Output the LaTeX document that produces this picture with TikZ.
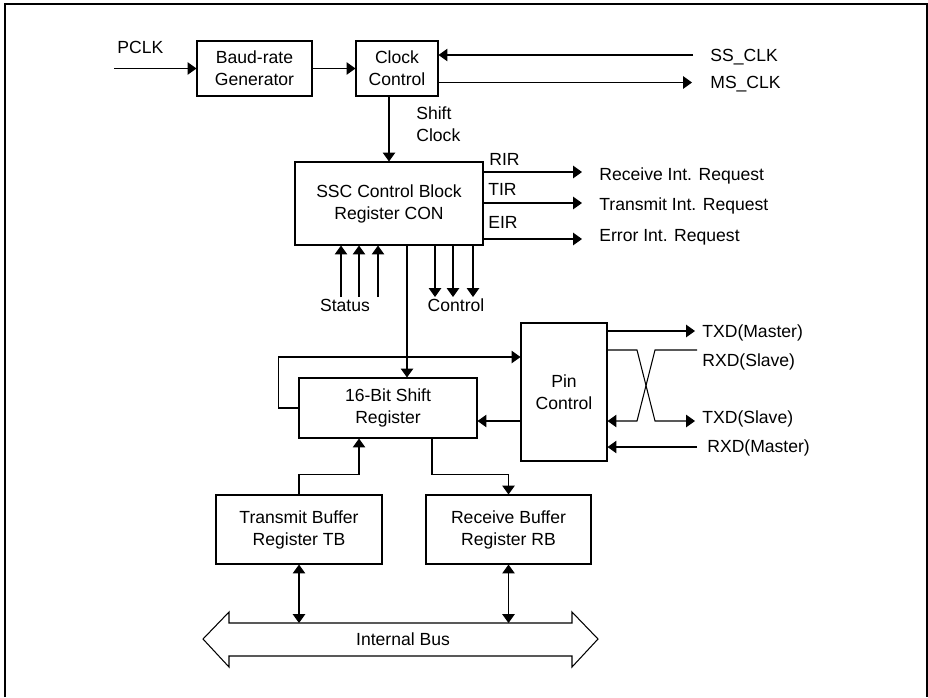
\documentclass[tikz,border=0pt]{standalone}
\usepackage{fontspec}
\setmainfont{Liberation Sans}
\usetikzlibrary{arrows.meta}
\begin{document}
\begin{tikzpicture}[x=0.02cm,y=-0.02cm,>={Triangle[length=5pt,width=7pt]},font=\fontsize{10}{12.5}\selectfont]
	\tikzstyle{block}=[draw=black,line width=0.6pt,align=center,inner sep=0pt]
	\tikzstyle{edge}=[draw=black,line width=0.6pt]
	\tikzstyle{lbl}=[inner sep=0pt,text height=7.2pt,text depth=0pt]

	\useasboundingbox (0,0) rectangle (928,697);
	\draw[line width=1.1pt] (5,697) -- (5,4) -- (927,4) -- (927,697);

	\node [block,minimum width=2.3cm,minimum height=1.1cm] (baud) at (254.5,68.5) {Baud-rate\\Generator};
	\node [block,minimum width=1.64cm,minimum height=1.1cm] (clk) at (397,68.5) {Clock\\Control};
	\node [block,minimum width=3.76cm,minimum height=1.66cm] (ssc) at (389,203.5) {SSC Control Block\\Register CON};
	\node [block,minimum width=3.56cm,minimum height=1.2cm] (shift) at (388,408) {16-Bit Shift\\Register};
	\node [block,minimum width=1.72cm,minimum height=2.76cm] (pin) at (564,392) {Pin\\Control};
	\node [block,minimum width=3.32cm,minimum height=1.38cm] (tb) at (299,529.5) {Transmit Buffer\\Register TB};
	\node [block,minimum width=3.3cm,minimum height=1.38cm] (rb) at (508.5,529.5) {Receive Buffer\\Register RB};

	\coordinate (pclk) at (114,68.5);
	\coordinate (ssclk) at (693,55);
	\coordinate (msclk) at (692,82.5);
	\coordinate (rir) at (582,172);
	\coordinate (tir) at (582,203);
	\coordinate (eir) at (582,239);
	\coordinate (txm) at (695,331);
	\coordinate (rxs) at (697,350);
	\coordinate (txs) at (695,421);
	\coordinate (rxm) at (697,447);
	\coordinate (bustop) at (400,623);

	\path[edge,->] (pclk) -- (baud);
	\path[edge,->] (baud) -- (clk);
	\path[edge,->] (ssclk) -- (ssclk -| clk.east);
	\path[edge,->] (msclk -| clk.east) -- (msclk);
	\path[edge,->] (ssc.north |- clk.south) -- (ssc.north);
	\foreach \c in {rir,tir,eir}
		\path[edge,->] (\c -| ssc.east) -- (\c);
	\foreach \x [count=\i] in {341,359,378} {
		\coordinate (st\i) at (\x,297);
		\path[edge,->] (st\i) -- (st\i |- ssc.south);
	}
	\foreach \x [count=\i] in {435,453,473} {
		\coordinate (ct\i) at (\x,297);
		\path[edge,->] (ct\i |- ssc.south) -- (ct\i);
	}
	\path[edge,->] (ssc.south) ++(18,0) coordinate (sd) -- (sd |- shift.north);
	\path[edge,->] (shift.west) -- ++(-20,0) |- ([yshift=0.7cm]pin.west);
	\coordinate (ps) at ([yshift=-0.58cm]pin.west);
	\path[edge,->] (ps) -- (ps -| shift.east);
	\path[edge,->] (tb.north) -- ++(0,-20) -| ([xshift=-0.58cm]shift.south);
	\path[edge,->] ([xshift=0.88cm]shift.south) -- ++(0,36) -| (rb.north);

	\path[edge,->] (txm -| pin.east) -- (txm);
	\path[edge,->] (rxs -| pin.east) -- (637,350) -- (655,421) -- (txs);
	\path[edge,->] (rxs) -- (655,350) -- (637,421) -- (txs -| pin.east);
	\path[edge,->] (rxm) -- (rxm -| pin.east);

	\draw[edge] (203,639) -- (229,612) -- (229,623) -- (572,623) -- (572,612) -- (598,639)
		-- (572,667) -- (572,656) -- (229,656) -- (229,667) -- cycle;
	\node (bus) at (403,639) {Internal Bus};
	\path[edge,<->] (tb.south) -- (tb.south |- bustop);
	\path[edge,<->] (rb.south) -- (rb.south |- bustop);

	\node [lbl,anchor=west] (pclklbl) at (117,47) {PCLK};
	\node [lbl,anchor=west] (ssclbl) at (710,55) {SS\_CLK};
	\node [lbl,anchor=west] (msclbl) at (710,82.5) {MS\_CLK};
	\node [anchor=north west,inner sep=0pt,align=left] (shclk) at (416,106) {Shift\\Clock};
	\node [lbl,anchor=west] (rirlbl) at (489,159.5) {RIR};
	\node [lbl,anchor=west] (tirlbl) at (488,189) {TIR};
	\node [lbl,anchor=west] (eirlbl) at (488,222.5) {EIR};
	\node [lbl,anchor=west] (rirtxt) at (599,174) {Receive Int. Request};
	\node [lbl,anchor=west] (tirtxt) at (599,204.5) {Transmit Int. Request};
	\node [lbl,anchor=west] (eirtxt) at (599,235) {Error Int. Request};
	\node [lbl] (status) at (345,305) {Status};
	\node [lbl] (control) at (456,305) {Control};
	\node [lbl,anchor=west] (txmlbl) at (702,331) {TXD(Master)};
	\node [lbl,anchor=west] (rxslbl) at (702,360) {RXD(Slave)};
	\node [lbl,anchor=west] (txslbl) at (702,417) {TXD(Slave)};
	\node [lbl,anchor=west] (rxmlbl) at (707,446) {RXD(Master)};
\end{tikzpicture}
\end{document}
